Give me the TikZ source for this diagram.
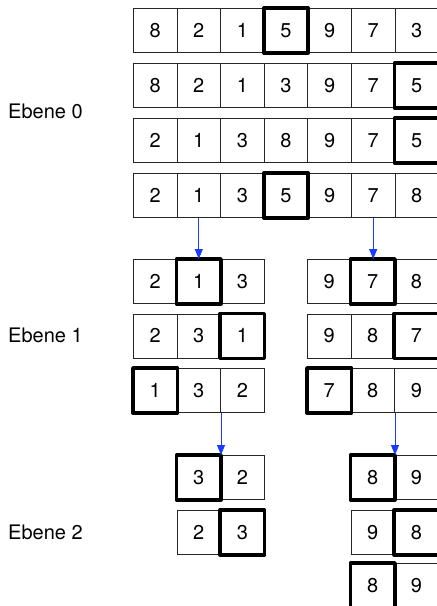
\documentclass[tikz,border=0pt]{standalone}
\usepackage{fontspec}
\setmainfont{TeX Gyre Heros}
\usetikzlibrary{arrows.meta}
\definecolor{arrowblue}{RGB}{25,60,255}
\begin{document}
\begin{tikzpicture}[x=1pt,y=-1pt,
  cell/.style={draw=black!85,line width=0.8pt,minimum width=43.6pt,minimum height=44pt,inner sep=0pt,anchor=north west,font=\fontsize{20}{24}\selectfont},
  pivot/.style={draw=black,line width=3.6pt,line join=round},
  lvl/.style={anchor=west,inner sep=0pt,font=\fontsize{20}{24}\selectfont},
  conn/.style={draw=arrowblue,line width=0.9pt,-{Triangle[length=10pt,width=8pt]}}]
\useasboundingbox (0,0) rectangle (437,606);
% level labels
\node[lvl] (e0) at (8,111) {Ebene 0};
\node[lvl] (e1) at (8,335) {Ebene 1};
\node[lvl] (e2) at (8,532) {Ebene 2};
% level 0
\foreach \v [count=\i from 0] in {8,2,1,5,9,7,3} \node[cell] (a\i) at (133+\i*43.6,8) {\v};
\foreach \v [count=\i from 0] in {8,2,1,3,9,7,5} \node[cell] (b\i) at (133+\i*43.6,63) {\v};
\foreach \v [count=\i from 0] in {2,1,3,8,9,7,5} \node[cell] (c\i) at (133+\i*43.6,118) {\v};
\foreach \v [count=\i from 0] in {2,1,3,5,9,7,8} \node[cell] (d\i) at (133+\i*43.6,173) {\v};
% level 1 left
\foreach \v [count=\i from 0] in {2,1,3} \node[cell] (la\i) at (133+\i*43.6,259) {\v};
\foreach \v [count=\i from 0] in {2,3,1} \node[cell] (lb\i) at (133+\i*43.6,313.5) {\v};
\foreach \v [count=\i from 0] in {1,3,2} \node[cell] (lc\i) at (133+\i*43.6,368) {\v};
% level 1 right
\foreach \v [count=\i from 0] in {9,7,8} \node[cell] (ra\i) at (307+\i*43.6,259) {\v};
\foreach \v [count=\i from 0] in {9,8,7} \node[cell] (rb\i) at (307+\i*43.6,313.5) {\v};
\foreach \v [count=\i from 0] in {7,8,9} \node[cell] (rc\i) at (307+\i*43.6,368) {\v};
% level 2 left
\foreach \v [count=\i from 0] in {3,2} \node[cell] (lla\i) at (176.6+\i*43.6,455) {\v};
\foreach \v [count=\i from 0] in {2,3} \node[cell] (llb\i) at (176.6+\i*43.6,510) {\v};
% level 2 right
\foreach \v [count=\i from 0] in {8,9} \node[cell] (rra\i) at (350.6+\i*43.6,455) {\v};
\foreach \v [count=\i from 0] in {9,8} \node[cell] (rrb\i) at (350.6+\i*43.6,510) {\v};
\foreach \v [count=\i from 0] in {8,9} \node[cell] (rrc\i) at (350.6+\i*43.6,563) {\v};
% pivots
\foreach \n in {a3,b6,c6,d3,la1,lb2,lc0,ra1,rb2,rc0,lla0,llb1,rra0,rrb1,rrc0}
  \draw[pivot] (\n.north west) rectangle (\n.south east);
% connectors
\draw[conn] (d1.south) -- (la1.north);
\draw[conn] (d5.south) -- (d5.south |- ra1.north);
\draw[conn] (lc1.south east) -- (lla0.north east);
\draw[conn] (rc1.south east) -- (rra0.north east);
\end{tikzpicture}
\end{document}
